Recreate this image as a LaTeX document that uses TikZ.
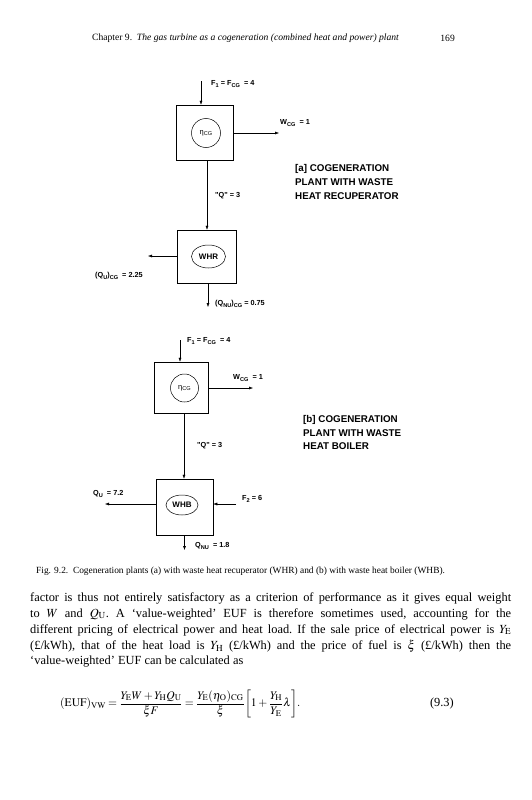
\documentclass[tikz,border=0pt]{standalone}
\usepackage{mathptmx}
\usepackage{fontspec}
\setmainfont{Liberation Serif}
\newfontfamily\diagfont{Liberation Sans}
\usetikzlibrary{arrows.meta,shapes.geometric}
\newcommand{\sbs}[1]{\raisebox{-0.4ex}{\fontsize{5.6}{6}\selectfont #1}}
\tikzset{
  blk/.style={draw, line width=0.5pt, inner sep=0pt},
  unit/.style={draw, line width=0.5pt, circle, inner sep=0pt, minimum size=29pt, font=\diagfont\fontsize{7.5}{9}\selectfont},
  oval/.style={draw, line width=0.5pt, ellipse, inner sep=0pt, font=\diagfont\bfseries\fontsize{8}{9}\selectfont},
  arr/.style={-{Latex[length=4pt,width=3pt]}, line width=0.45pt},
  lab/.style={font=\diagfont\bfseries\fontsize{7.3}{9}\selectfont, anchor=west, inner sep=0pt},
  ttl/.style={font=\diagfont\bfseries\fontsize{9.8}{12}\selectfont, anchor=west, inner sep=0pt},
  txt/.style={font=\fontsize{12.4}{14}\selectfont\frenchspacing, anchor=west, inner sep=0pt},
}
\begin{document}
\begin{tikzpicture}[x=1pt,y=-1pt]
\fill[white] (0,0) rectangle (532,800);
\useasboundingbox (0,0) rectangle (532,800);

% header
\node[anchor=west, inner sep=0pt, font=\fontsize{9.6}{11}\selectfont] (hdr) at (92,38) {Chapter 9.\ \ \textit{The gas turbine as a cogeneration (combined heat and power) plant}};
\node[anchor=east, inner sep=0pt, font=\fontsize{9.6}{11}\selectfont] (pg) at (455,38) {169};

% ---------- diagram (a) ----------
\node[blk, minimum width=57pt, minimum height=55pt] (cga) at (204.5,132.5) {};
\node[unit] (etaa) at (206,133) {η\sbs{CG}};
\coordinate (fa) at (201,81);
\draw[arr] (fa) -- (fa |- cga.north);
\node[lab] (lfa) at (211,84) {F\sbs{1} = F\sbs{CG}\ \ = 4};
\coordinate (wa) at (279,133);
\draw[arr] (cga.east |- wa) -- (wa);
\node[lab] (lwa) at (280,123) {W\sbs{CG}\ \ = 1};

\node[blk, minimum width=59pt, minimum height=53pt] (whr) at (206.5,256.5) {};
\node[oval, minimum width=34pt, minimum height=23pt] (whrin) at (208.5,256.5) {WHR};
\coordinate (qa) at (207,160);
\draw[arr] (qa) -- (qa |- whr.north);
\node[lab] (lqa) at (215,196) {"Q" = 3};

\node[ttl] (ta1) at (295,169) {[a] COGENERATION};
\node[ttl] (ta2) at (295,182.5) {PLANT WITH WASTE};
\node[ttl] (ta3) at (295,196) {HEAT RECUPERATOR};

\coordinate (qua) at (148,256);
\draw[arr] (whr.west |- qua) -- (qua);
\node[lab] (lqua) at (95,276) {(Q\sbs{U})\sbs{CG}\ \ = 2.25};
\coordinate (qnua) at (208,307);
\draw[arr] (whr.south -| qnua) -- (qnua);
\node[lab] (lqnua) at (215,304) {(Q\sbs{NU})\sbs{CG}\ = 0.75};

% ---------- diagram (b) ----------
\node[blk, minimum width=54pt, minimum height=51pt] (cgb) at (181,387.5) {};
\node[unit, minimum size=28pt] (etab) at (184.5,388) {η\sbs{CG}};
\coordinate (fb) at (180,340);
\draw[arr] (fb) -- (fb |- cgb.north);
\node[lab] (lfb) at (187,341) {F\sbs{1} = F\sbs{CG}\ \ = 4};
\coordinate (wb) at (253,388);
\draw[arr] (cgb.east |- wb) -- (wb);
\node[lab] (lwb) at (233,378) {W\sbs{CG}\ \ = 1};

\node[ttl] (tb1) at (303,420) {[b] COGENERATION};
\node[ttl] (tb2) at (303,433) {PLANT WITH WASTE};
\node[ttl] (tb3) at (303,446) {HEAT BOILER};

\node[blk, minimum width=57pt, minimum height=56pt] (whb) at (184.5,507) {};
\node[oval, minimum width=32pt, minimum height=20pt] (whbin) at (182,505) {WHB};
\coordinate (qb) at (184,413);
\draw[arr] (qb) -- (qb |- whb.north);
\node[lab] (lqb) at (197,446) {"Q" = 3};

\coordinate (qub) at (105,504);
\draw[arr] (whb.west |- qub) -- (qub);
\node[lab] (lqub) at (93,494) {Q\sbs{U}\ \ = 7.2};
\coordinate (f2) at (236,504);
\draw[arr] (f2) -- (whb.east |- f2);
\node[lab] (lf2) at (242,499) {F\sbs{2} = 6};
\coordinate (qnub) at (184.5,550);
\draw[arr] (whb.south -| qnub) -- (qnub);
\node[lab] (lqnub) at (195,546) {Q\sbs{NU}\ \ = 1.8};

% caption
\node[anchor=west, inner sep=0pt, font=\fontsize{9.4}{10}\selectfont] (cap) at (36,571) {Fig. 9.2.\ \ Cogeneration plants (a) with waste heat recuperator (WHR) and (b) with waste heat boiler (WHB).};

% paragraph
\node[txt] (l1) at (30,598) {\makebox[481pt][s]{factor is thus not entirely satisfactory as a criterion of performance as it gives equal weight}};
\node[txt] (l2) at (30,614) {\makebox[481pt][s]{to $W$ and $Q_{\mathrm{U}}$. A `value-weighted' EUF is therefore sometimes used, accounting for the}};
\node[txt] (l3) at (30,630) {\makebox[481pt][s]{different pricing of electrical power and heat load. If the sale price of electrical power is $Y_{\mathrm{E}}$}};
\node[txt] (l4) at (30,646) {\makebox[481pt][s]{(£/kWh), that of the heat load is $Y_{\mathrm{H}}$ (£/kWh) and the price of fuel is $\xi$ (£/kWh) then the}};
\node[txt] (l5) at (30,662) {`value-weighted' EUF can be calculated as};

% equation
\node[txt, font=\fontsize{11.6}{14}\selectfont] (eq) at (60,704) {\medmuskip=2.5mu\thickmuskip=3.5mu$\displaystyle (\mathrm{EUF})_{\mathrm{VW}} = \frac{Y_{\mathrm{E}}W + Y_{\mathrm{H}}Q_{\mathrm{U}}}{\xi F} = \frac{Y_{\mathrm{E}}(\eta_{\mathrm{O}})_{\mathrm{CG}}}{\xi}\!\left[1+\frac{Y_{\mathrm{H}}}{Y_{\mathrm{E}}}\lambda\right]\!.$};
\node[txt, anchor=east] (eqn) at (454,704) {(9.3)};
\end{tikzpicture}
\end{document}
